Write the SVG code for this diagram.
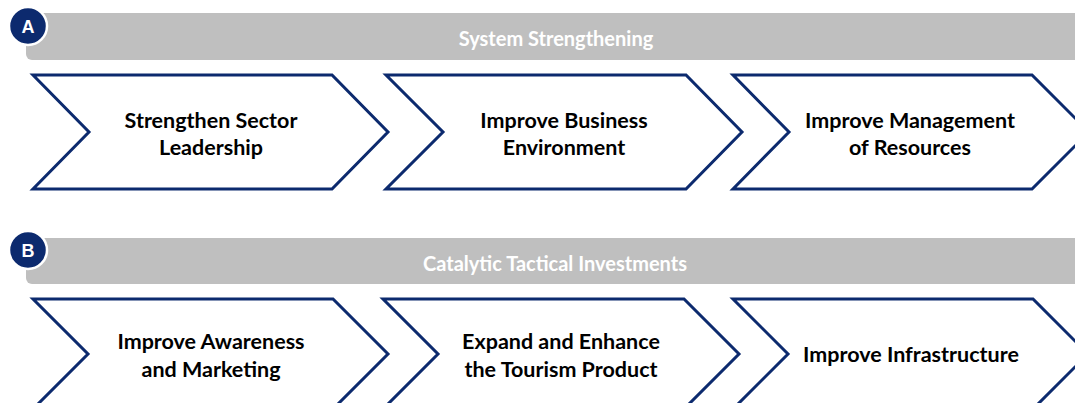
<svg xmlns="http://www.w3.org/2000/svg" width="1075" height="403" viewBox="0 0 1075 403">
<style>
.bar{fill:#bfbfbf;}
.hdr{font-family:Lato,"Liberation Sans",sans-serif;font-weight:bold;font-size:20px;fill:#ffffff;text-anchor:middle;}
.badge{fill:#0c2a6e;stroke:#ffffff;stroke-width:2.5;}
.badgeT{font-family:"Liberation Sans",Arial,sans-serif;font-weight:bold;font-size:18px;fill:#ffffff;text-anchor:middle;}
.chev{fill:#ffffff;stroke:#0c2a6e;stroke-width:3;stroke-linejoin:miter;}
.lbl{font-family:Lato,"Liberation Sans",sans-serif;font-weight:bold;font-size:21.5px;fill:#000000;text-anchor:middle;}
</style>
<rect width="1075" height="403" fill="#ffffff"/>
<g id="headerA">
<rect class="bar" x="26" y="13" width="1065" height="47" rx="6"/>
<text class="hdr" x="556" y="46">System Strengthening</text>
</g>
<g id="badgeA">
<circle class="badge" cx="28" cy="26" r="19"/>
<text class="badgeT" x="28" y="32.5">A</text>
</g>
<g id="chevA1">
<polygon class="chev" points="33,75 332,75 388,132 332,189 33,189 89,132"/>
<text class="lbl" x="211" y="128">Strengthen Sector</text>
<text class="lbl" x="211" y="155">Leadership</text>
</g>
<g id="chevA2">
<polygon class="chev" points="386,75 686,75 742,132 686,189 386,189 443,132"/>
<text class="lbl" x="564" y="128">Improve Business</text>
<text class="lbl" x="564" y="155">Environment</text>
</g>
<g id="chevA3">
<polygon class="chev" points="733,75 1032,75 1089,132 1032,189 733,189 789,132"/>
<text class="lbl" x="910" y="128">Improve Management</text>
<text class="lbl" x="910" y="155">of Resources</text>
</g>
<g id="headerB">
<rect class="bar" x="26" y="238" width="1065" height="46" rx="6"/>
<text class="hdr" x="555" y="271">Catalytic Tactical Investments</text>
</g>
<g id="badgeB">
<circle class="badge" cx="28" cy="250" r="19"/>
<text class="badgeT" x="28" y="256.5">B</text>
</g>
<g id="chevB1">
<polygon class="chev" points="33,299 333,299 388,354 333,409 33,409 88,354"/>
<text class="lbl" x="211" y="349">Improve Awareness</text>
<text class="lbl" x="211" y="377">and Marketing</text>
</g>
<g id="chevB2">
<polygon class="chev" points="383,299 684,299 739,354 684,409 383,409 438,354"/>
<text class="lbl" x="561" y="349">Expand and Enhance</text>
<text class="lbl" x="561" y="377">the Tourism Product</text>
</g>
<g id="chevB3">
<polygon class="chev" points="733,299 1033,299 1088,354 1033,409 733,409 788,354"/>
<text class="lbl" x="911" y="362">Improve Infrastructure</text>
</g>
<g id="connectors"/>
</svg>
